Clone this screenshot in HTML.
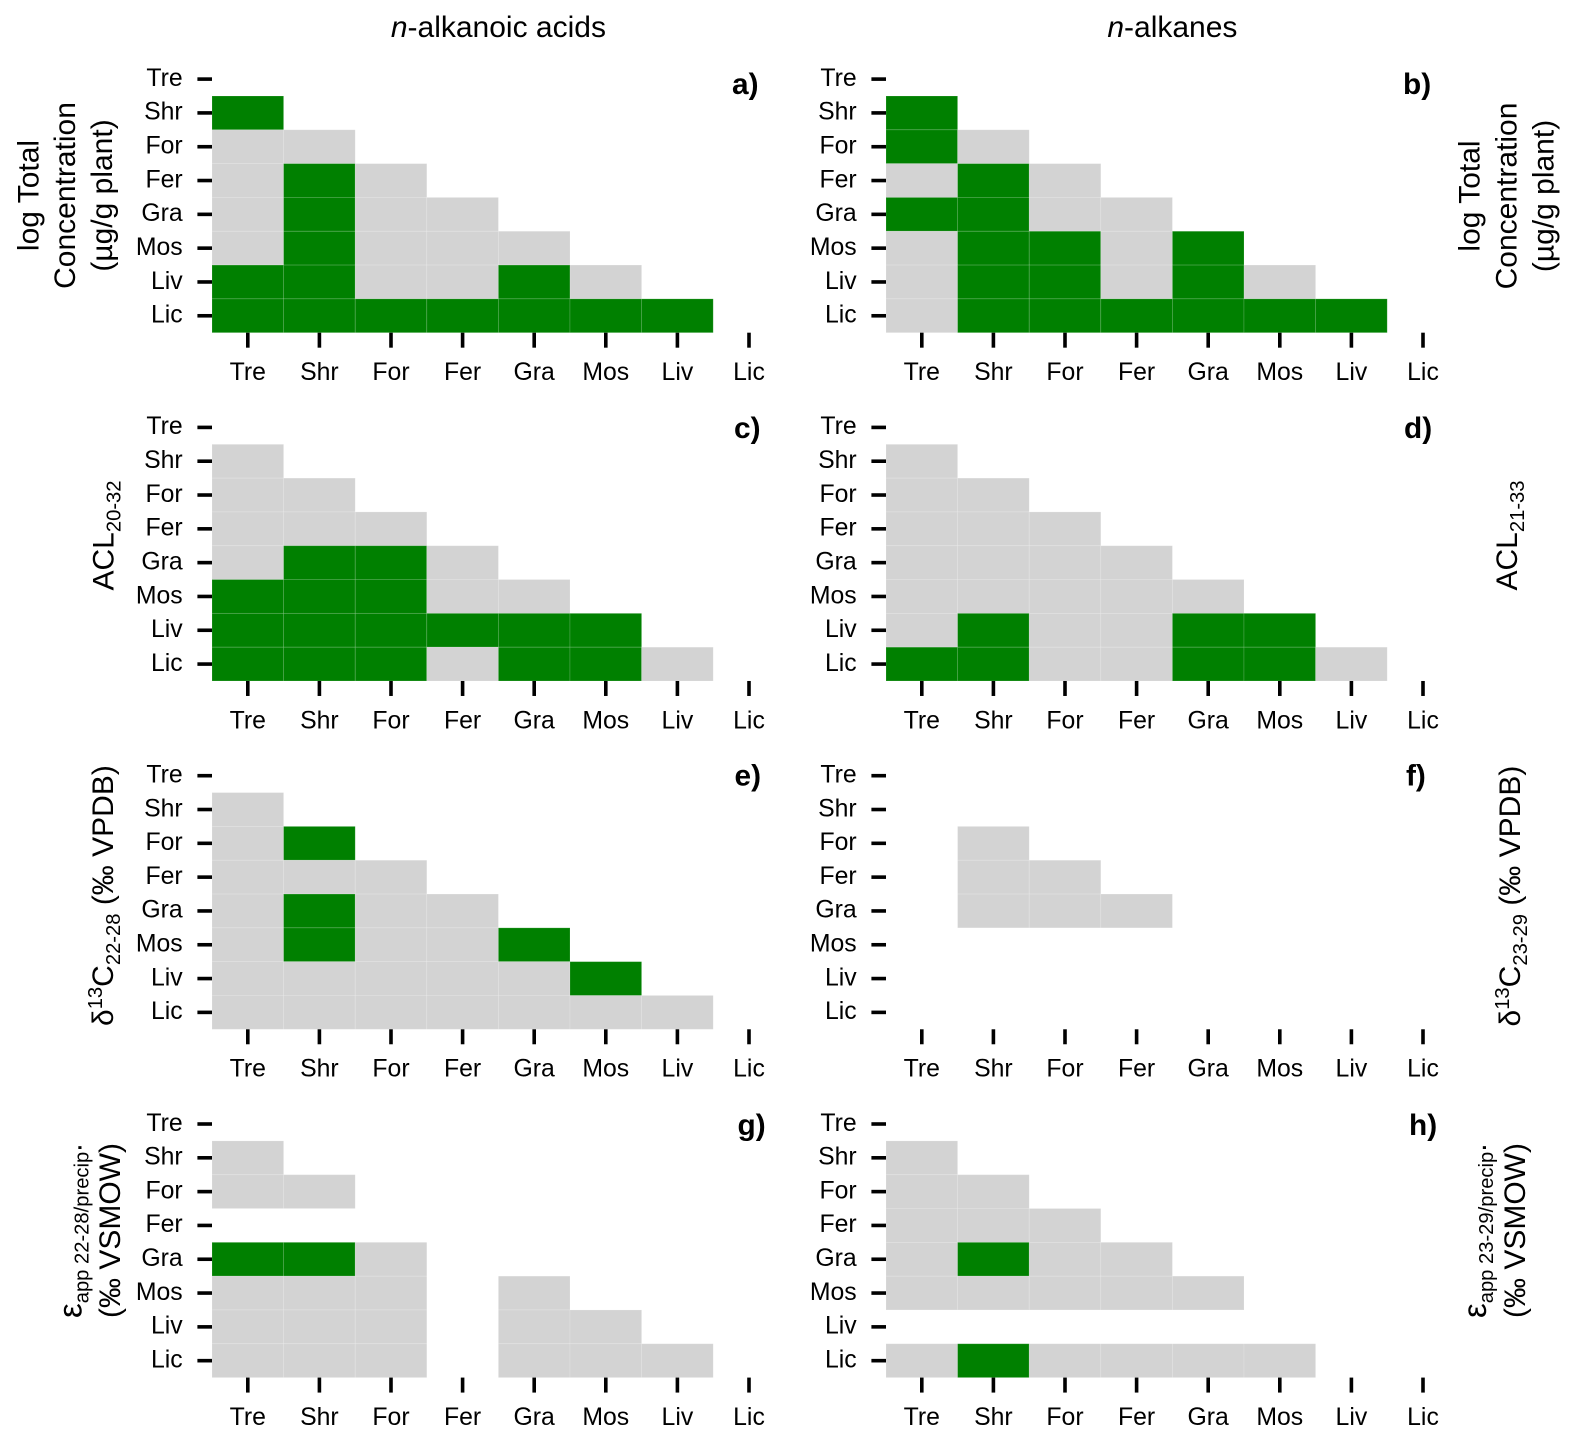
<!DOCTYPE html>
<html>
<head>
<meta charset="utf-8">
<title>Pairwise comparison matrices</title>
<style>
html,body{margin:0;padding:0;background:#fff;}
svg{display:block;}
text{font-family:"Liberation Sans",sans-serif;fill:#000;}
.head,.ylab{font-size:30px;}
.letter{font-size:29.8px;font-weight:bold;}
.tick{font-size:24.8px;}
.sub{font-size:20.2px;}
.greek{font-size:33px;}
</style>
</head>
<body>
<svg id="chart" xmlns="http://www.w3.org/2000/svg" width="1576" height="1441" viewBox="0 0 1576 1441">
<rect x="0" y="0" width="1576" height="1441" fill="#fff"/>
<text class="head" x="498.4" y="37" text-anchor="middle"><tspan font-style="italic">n</tspan>-alkanoic acids</text>
<text class="head" x="1172.4" y="37" text-anchor="middle"><tspan font-style="italic">n</tspan>-alkanes</text>

<text class="letter" x="732" y="94">a)</text>
<text class="letter" x="1403" y="94">b)</text>
<text class="letter" x="734" y="438">c)</text>
<text class="letter" x="1404" y="438">d)</text>
<text class="letter" x="734.5" y="785.5">e)</text>
<text class="letter" x="1406" y="785.5">f)</text>
<text class="letter" x="737.5" y="1135">g)</text>
<text class="letter" x="1409" y="1135">h)</text>

<g>
<text class="ylab" transform="translate(38.3,195.5) rotate(-90)" text-anchor="middle">log Total</text>
<text class="ylab" transform="translate(75,195.5) rotate(-90)" text-anchor="middle">Concentration</text>
<text class="ylab" transform="translate(112,195.5) rotate(-90)" text-anchor="middle">(µg/g plant)</text>
</g>
<g>
<text class="ylab" transform="translate(1479.5,196) rotate(-90)" text-anchor="middle">log Total</text>
<text class="ylab" transform="translate(1516.7,196) rotate(-90)" text-anchor="middle">Concentration</text>
<text class="ylab" transform="translate(1553.5,196) rotate(-90)" text-anchor="middle">(µg/g plant)</text>
</g>
<text class="ylab" transform="translate(113.5,590.5) rotate(-90)">ACL<tspan class="sub" dy="7">20-32</tspan></text>
<text class="ylab" transform="translate(1517,590.5) rotate(-90)">ACL<tspan class="sub" dy="7">21-33</tspan></text>
<text class="ylab" transform="translate(113,1026) rotate(-90)">δ<tspan class="sub" dy="-11">13</tspan><tspan dy="11">C</tspan><tspan class="sub" dy="7">22-28</tspan><tspan dy="-7"> (‰ VPDB)</tspan></text>
<text class="ylab" transform="translate(1520,1026.5) rotate(-90)">δ<tspan class="sub" dy="-11">13</tspan><tspan dy="11">C</tspan><tspan class="sub" dy="7">23-29</tspan><tspan dy="-7"> (‰ VPDB)</tspan></text>
<g>
<text class="ylab" transform="translate(81.7,1318) rotate(-90)"><tspan class="greek">ε</tspan><tspan class="sub" dy="7">app 22-28/precip</tspan><tspan dy="-7">.</tspan></text>
<text class="ylab" transform="translate(120,1318) rotate(-90)">(‰ VSMOW)</text>
</g>
<g>
<text class="ylab" transform="translate(1486,1318) rotate(-90)"><tspan class="greek">ε</tspan><tspan class="sub" dy="7">app 23-29/precip</tspan><tspan dy="-7">.</tspan></text>
<text class="ylab" transform="translate(1525,1318) rotate(-90)">(‰ VSMOW)</text>
</g>
</svg>
<script>
// Plant groups shared by both axes
var categories = ["Tre", "Shr", "For", "Fer", "Gra", "Mos", "Liv", "Lic"];

// Pairwise results: 1 = significant, 0 = not significant, null = no comparison.
// Each row lists columns from Tre onward.
var panelA = [[], [1], [0,0], [0,1,0], [0,1,0,0], [0,1,0,0,0], [1,1,0,0,1,0], [1,1,1,1,1,1,1]];
var panelB = [[], [1], [1,0], [0,1,0], [1,1,0,0], [0,1,1,0,1], [0,1,1,0,1,0], [0,1,1,1,1,1,1]];
var panelC = [[], [0], [0,0], [0,0,0], [0,1,1,0], [1,1,1,0,0], [1,1,1,1,1,1], [1,1,1,0,1,1,0]];
var panelD = [[], [0], [0,0], [0,0,0], [0,0,0,0], [0,0,0,0,0], [0,1,0,0,1,1], [1,1,0,0,1,1,0]];
var panelE = [[], [0], [0,1], [0,0,0], [0,1,0,0], [0,1,0,0,1], [0,0,0,0,0,1], [0,0,0,0,0,0,0]];
var panelF = [[], [], [null,0], [null,0,0], [null,0,0,0], [], [], []];
var panelG = [[], [0], [0,0], [], [1,1,0], [0,0,0,null,0], [0,0,0,null,0,0], [0,0,0,null,0,0,0]];
var panelH = [[], [0], [0,0], [0,0,0], [0,1,0,0], [0,0,0,0,0], [], [0,1,0,0,0,0]];

var panelNames = ["a", "b", "c", "d", "e", "f", "g", "h"];
var panelValues = [panelA, panelB, panelC, panelD, panelE, panelF, panelG, panelH];

var cellColor = ["#d3d3d3", "#008000"];
var svgNS = "http://www.w3.org/2000/svg";
var chart = document.getElementById("chart");

function panelLeft(col) { return 212 + col * 674; }
function panelTop(row) { return 62.2 + row * 348.3; }
function xBand() { return 71.6; }
function yBand() { return 33.81; }
function xScale(panelCol, i) { return panelLeft(panelCol) + i * xBand(); }
function yScale(panelRow, j) { return panelTop(panelRow) + j * yBand(); }

function make(tag, attrs, parent) {
  var el = document.createElementNS(svgNS, tag);
  for (var k in attrs) { el.setAttribute(k, attrs[k]); }
  parent.appendChild(el);
  return el;
}

panelValues.forEach(function (matrix, p) {
  var pCol = p % 2;
  var pRow = Math.floor(p / 2);
  var group = make("g", {}, chart);
  
  

  matrix.forEach(function (row, j) {
    row.forEach(function (value, i) {
      if (value === null) { return; }
      var cell = make("rect", {
        x: xScale(pCol, i),
        y: yScale(pRow, j),
        width: xBand(),
        height: yBand(),
        fill: cellColor[value],
        stroke: "#fff",
        "stroke-opacity": 0.18,
        "stroke-width": 0.8
      }, group);
      
      
    });
  });

  var bottom = yScale(pRow, categories.length);
  categories.forEach(function (name, k) {
    var cx = xScale(pCol, k) + xBand() / 2;
    var cy = yScale(pRow, k) + yBand() / 2;

    var xTick = make("line", { x1: cx, x2: cx, y1: bottom, y2: bottom + 15, stroke: "#000", "stroke-width": 3.6 }, group);
    
    

    var xLabel = make("text", { "class": "tick", x: cx, y: bottom + 47.3, "text-anchor": "middle" }, group);
    xLabel.textContent = name;
    
    

    var left = panelLeft(pCol);
    var yTick = make("line", { x1: left - 14.6, x2: left, y1: cy, y2: cy, stroke: "#000", "stroke-width": 3.6 }, group);
    
    

    var yLabel = make("text", { "class": "tick", x: left - 29.3, y: cy + 6.8, "text-anchor": "end" }, group);
    yLabel.textContent = name;
    
    
  });
});
</script>
</body>
</html>
